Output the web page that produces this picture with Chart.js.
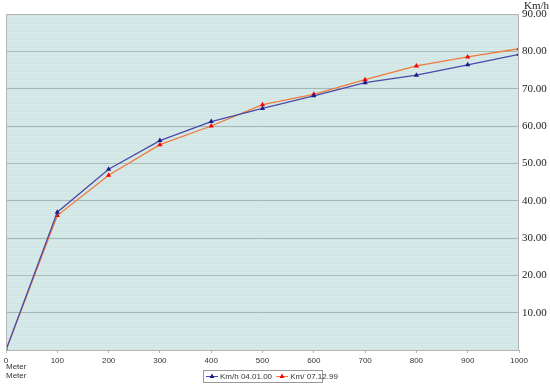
<!DOCTYPE html>
<html>
<head>
<meta charset="utf-8">
<script src="https://cdn.jsdelivr.net/npm/chart.js@4/dist/chart.umd.min.js"></script>
<style>
  html, body { margin: 0; padding: 0; background: #fff; }
  #wrap { position: relative; width: 550px; height: 386px; }
  #mainChart { position: absolute; left: 0; top: 0; }
  .unit { position: absolute; left: 524px; top: -1px; font: 11px "Liberation Serif", serif; color: #222; }
  .meter { position: absolute; left: 6px; font: 8px "Liberation Sans", Arial, sans-serif; color: #333; }
  .legend { position: absolute; left: 203px; top: 370px; width: 118px; height: 11px; border: 1px solid #999;
    font: 8px "Liberation Sans", Arial, sans-serif; color: #333; white-space: nowrap; background: #fff; }
  .legend span { display: inline-block; vertical-align: top; line-height: 11px; }
  .legend canvas { vertical-align: top; }
</style>
</head>
<body>
<div id="wrap">
  <canvas id="mainChart" width="550" height="386"></canvas>
  <div class="unit">Km/h</div>
  <div class="meter" style="top:362px">Meter</div>
  <div class="meter" style="top:371px">Meter</div>
  <div class="legend">
    <canvas id="lg1" width="16" height="11"></canvas><span>Km/h 04.01.00&nbsp;</span><canvas id="lg2" width="16" height="11"></canvas><span>Km/ 07.12.99</span>
  </div>
</div>
<script>
const meters = [0, 100, 200, 300, 400, 500, 600, 700, 800, 900, 1000];
const speed040100 = [0, 36.9, 48.4, 56.1, 61.2, 64.7, 68.1, 71.6, 73.6, 76.4, 79.2];
const speed071299 = [0, 36.0, 46.8, 55.0, 60.0, 65.7, 68.5, 72.4, 76.1, 78.5, 80.7];
const seriesNames = ['Km/h 04.01.00', 'Km/ 07.12.99'];

const blueLine = '#4a4aa8', blueMark = '#1c1c8c';
const redLine = '#f07a3c', redMark = '#ff0000';

function hatch() {
  const c = document.createElement('canvas');
  c.width = 4; c.height = 2;
  const g = c.getContext('2d');
  g.fillStyle = '#d8ebeb'; g.fillRect(0, 0, 4, 2);
  g.fillStyle = '#d0e4e4'; g.fillRect(0, 1, 4, 1);
  return c;
}

const bgPlugin = {
  id: 'plotBg',
  beforeDraw(chart) {
    const { ctx, chartArea: a } = chart;
    ctx.save();
    ctx.fillStyle = ctx.createPattern(hatch(), 'repeat');
    ctx.fillRect(a.left, a.top, a.right - a.left, a.bottom - a.top);
    ctx.restore();
  },
  afterDatasetsDraw(chart) {
    const { ctx, chartArea: a } = chart;
    ctx.save();
    ctx.strokeStyle = '#b4b4b4';
    ctx.lineWidth = 1;
    ctx.strokeRect(a.left + 0.5, a.top + 0.5, a.right - a.left - 1, a.bottom - a.top);
    ctx.restore();
  }
};

const toPts = (ys) => meters.map((m, i) => ({ x: m, y: ys[i] }));

new Chart(document.getElementById('mainChart'), {
  type: 'line',
  data: {
    datasets: [
      {
        label: seriesNames[0],
        data: toPts(speed040100),
        borderColor: blueLine,
        borderWidth: 1.3,
        pointStyle: 'triangle',
        pointRadius: 3,
        pointBackgroundColor: blueMark,
        pointBorderColor: blueMark,
        pointBorderWidth: 0,
        tension: 0,
      },
      {
        label: seriesNames[1],
        data: toPts(speed071299),
        borderColor: redLine,
        borderWidth: 1.3,
        pointStyle: 'triangle',
        pointRadius: 3,
        pointBackgroundColor: redMark,
        pointBorderColor: redMark,
        pointBorderWidth: 0,
        tension: 0,
      },
    ],
  },
  options: {
    responsive: false,
    animation: false,
    layout: { padding: { left: 6, top: 14, right: 0, bottom: 0 } },
    plugins: { legend: { display: false }, tooltip: { enabled: false } },
    scales: {
      x: {
        type: 'linear',
        min: 0, max: 1000,
        ticks: {
          stepSize: 100, color: '#333', font: { family: 'Liberation Sans', size: 8 }, padding: 3, maxRotation: 0,
          callback: (v) => String(v),
        },
        grid: { drawOnChartArea: false, color: '#b4b4b4', tickLength: 3 },
        border: { color: '#b4b4b4' },
        afterFit(s) { s.height = 36; },
      },
      y: {
        position: 'right',
        min: 0, max: 90,
        ticks: {
          stepSize: 10,
          color: '#222',
          font: { family: 'Liberation Serif', size: 11 },
          padding: 3,
          callback: (v) => (v === 0 ? '' : v.toFixed(2)),
        },
        grid: { color: '#a3b8b8', drawTicks: false },
        border: { display: false },
        afterFit(s) { s.width = 31; },
      },
    },
  },
  plugins: [bgPlugin],
});

function legendMark(id, line, mark) {
  const g = document.getElementById(id).getContext('2d');
  g.strokeStyle = line; g.lineWidth = 1;
  g.beginPath(); g.moveTo(2, 5.5); g.lineTo(14, 5.5); g.stroke();
  g.fillStyle = mark;
  g.beginPath(); g.moveTo(8, 2.5); g.lineTo(10.5, 7); g.lineTo(5.5, 7); g.closePath(); g.fill();
}
legendMark('lg1', blueLine, blueMark);
legendMark('lg2', redLine, redMark);
</script>
</body>
</html>
